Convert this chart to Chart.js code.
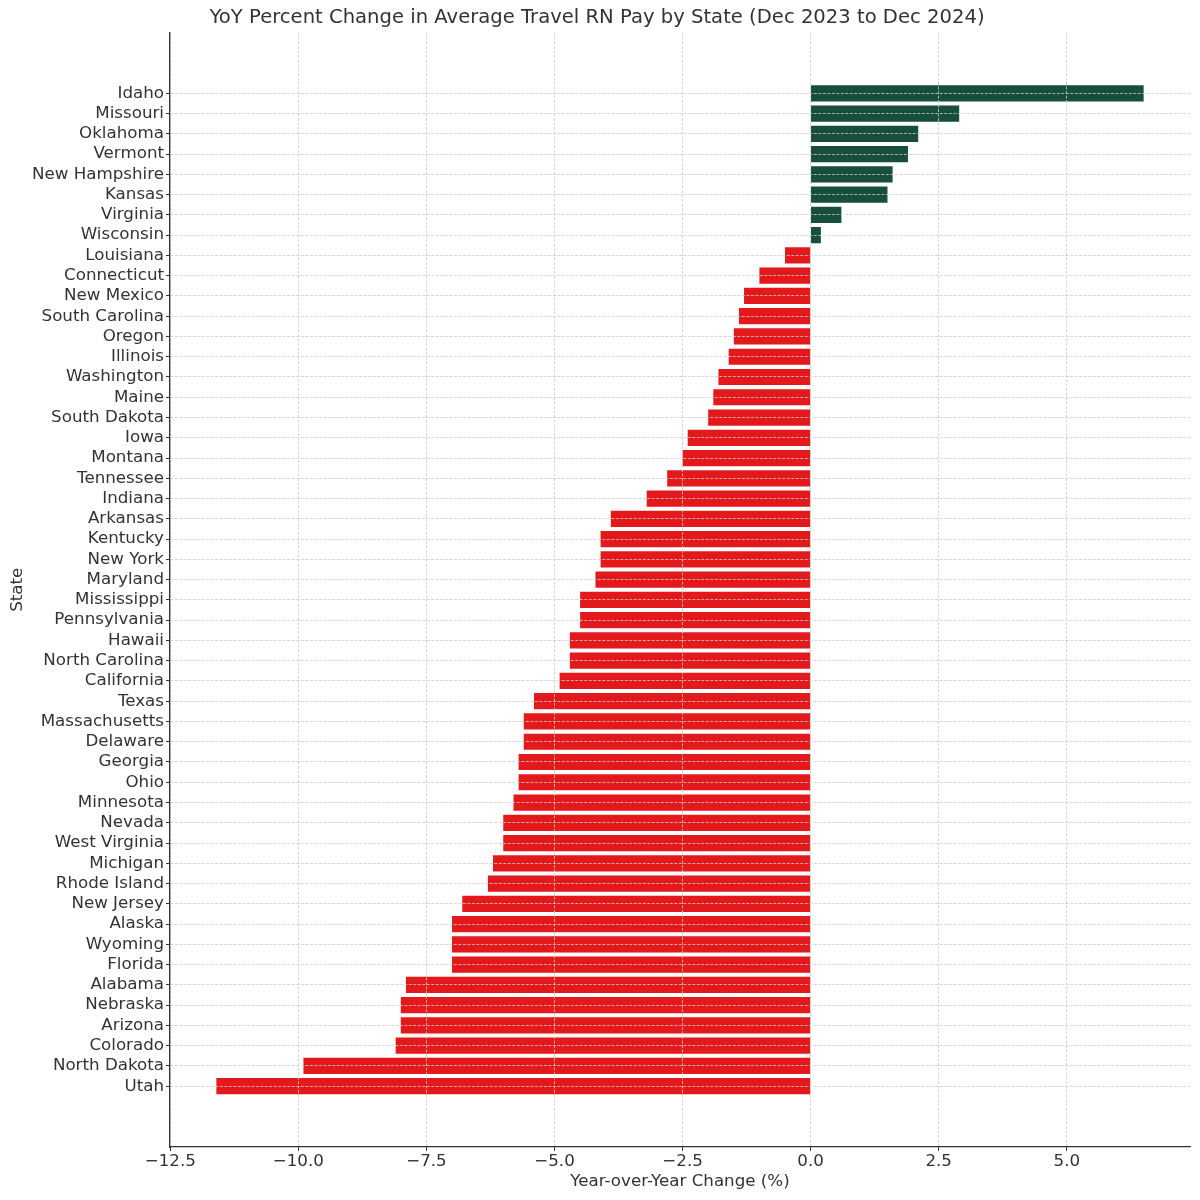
<!DOCTYPE html>
<html>
<head>
<meta charset="utf-8">
<script src="https://cdn.jsdelivr.net/npm/chart.js@4"></script>
<style>
  body { margin: 0; background: #fff; }
  #wrap { width: 1200px; height: 1200px; }
</style>
</head>
<body>
<div id="wrap"><canvas id="payChart" width="1200" height="1200"></canvas></div>
<script>
// states listed top to bottom
const states = ['Idaho', 'Missouri', 'Oklahoma', 'Vermont', 'New Hampshire', 'Kansas', 'Virginia', 'Wisconsin',
  'Louisiana', 'Connecticut', 'New Mexico', 'South Carolina', 'Oregon', 'Illinois', 'Washington', 'Maine',
  'South Dakota', 'Iowa', 'Montana', 'Tennessee', 'Indiana', 'Arkansas', 'Kentucky', 'New York', 'Maryland',
  'Mississippi', 'Pennsylvania', 'Hawaii', 'North Carolina', 'California', 'Texas', 'Massachusetts', 'Delaware',
  'Georgia', 'Ohio', 'Minnesota', 'Nevada', 'West Virginia', 'Michigan', 'Rhode Island', 'New Jersey', 'Alaska',
  'Wyoming', 'Florida', 'Alabama', 'Nebraska', 'Arizona', 'Colorado', 'North Dakota', 'Utah'];
const pctChange = [6.5, 2.9, 2.1, 1.9, 1.6, 1.5, 0.6, 0.2,
  -0.5, -1.0, -1.3, -1.4, -1.5, -1.6, -1.8, -1.9,
  -2.0, -2.4, -2.5, -2.8, -3.2, -3.9, -4.1, -4.1, -4.2,
  -4.5, -4.5, -4.7, -4.7, -4.9, -5.4, -5.6, -5.6,
  -5.7, -5.7, -5.8, -6.0, -6.0, -6.2, -6.3, -6.8, -7.0,
  -7.0, -7.0, -7.9, -8.0, -8.0, -8.1, -9.9, -11.6];
const xTicks = [-12.5, -10.0, -7.5, -5.0, -2.5, 0.0, 2.5, 5.0];

const green = '#174f3c';
const red = '#e4191c';
const textColor = '#333333';
const gridColor = '#cccccc';

Chart.defaults.font.family = 'DejaVu Sans';
Chart.defaults.color = textColor;

const ctx = document.getElementById('payChart').getContext('2d');
const payChart = new Chart(ctx, {
  type: 'bar',
  data: {
    datasets: [{
      label: 'YoY change',
      data: pctChange.map((v, i) => ({ x: v, y: i })),
      backgroundColor: pctChange.map(v => v >= 0 ? green : red),
      borderWidth: 0,
      barPercentage: 0.8,
      categoryPercentage: 1.0
    }]
  },
  options: {
    indexAxis: 'y',
    responsive: false,
    animation: false,
    layout: { padding: { left: 4, right: 10, top: 0, bottom: 8 } },
    plugins: {
      legend: { display: false },
      tooltip: { enabled: false },
      title: {
        display: true,
        text: 'YoY Percent Change in Average Travel RN Pay by State (Dec 2023 to Dec 2024)',
        font: { size: 19.6, weight: 'normal' },
        color: textColor,
        padding: { top: 6, bottom: 3 }
      }
    },
    scales: {
      x: {
        type: 'linear',
        min: -12.505,
        max: 7.405,
        afterBuildTicks: s => { s.ticks = xTicks.map(v => ({ value: v })); },
        afterFit: s => { s.height = 45; },
        ticks: {
          font: { size: 16.7 },
          color: textColor,
          padding: 1,
          maxRotation: 0,
          callback: v => v.toFixed(1).replace('-', '\u2212')
        },
        grid: {
          color: gridColor,
          lineWidth: 0.8,
          z: 1,
          drawTicks: true,
          tickLength: 4,
          tickColor: textColor,
          tickWidth: 1
        },
        border: { display: true, color: textColor, width: 1.3, dash: [3, 1.5], z: 2 },
        title: {
          display: true,
          text: 'Year-over-Year Change (%)',
          font: { size: 16.7 },
          color: textColor,
          padding: { top: 0, bottom: 0 }
        }
      },
      y: {
        type: 'linear',
        reverse: true,
        offset: false,
        min: -3,
        max: 52,
        afterBuildTicks: s => { s.ticks = states.map((n, i) => ({ value: i })); },
        afterFit: s => { s.width = 166; },
        ticks: {
          font: { size: 16.7 },
          color: textColor,
          padding: 2,
          autoSkip: false,
          callback: v => states[v]
        },
        grid: {
          color: gridColor,
          lineWidth: 0.8,
          offset: false,
          z: 1,
          drawTicks: true,
          tickLength: 4,
          tickColor: textColor,
          tickWidth: 1
        },
        border: { display: true, color: textColor, width: 1.3, dash: [3, 1.5], z: 2 },
        title: {
          display: true,
          text: 'State',
          font: { size: 16.7 },
          color: textColor,
          padding: { top: 4, bottom: 0 }
        }
      }
    }
  }
});
</script>
</body>
</html>
